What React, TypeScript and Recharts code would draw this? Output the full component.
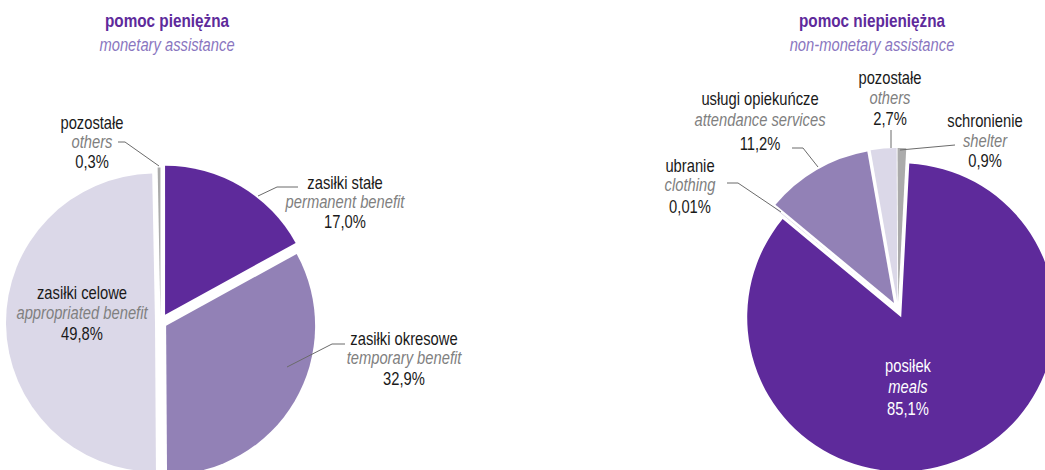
import { PieChart, Pie, Cell } from 'recharts';

// pomoc pieniężna / monetary assistance
const monetaryNames = ['zasiłki stałe', 'zasiłki okresowe', 'zasiłki celowe', 'pozostałe'];
const monetaryNamesEn = ['permanent benefit', 'temporary benefit', 'appropriated benefit', 'others'];
const monetaryValues = [17.0, 32.9, 49.8, 0.3];

// pomoc niepieniężna / non-monetary assistance
const nonMonetaryNames = ['posiłek', 'ubranie', 'usługi opiekuńcze', 'pozostałe', 'schronienie'];
const nonMonetaryNamesEn = ['meals', 'clothing', 'attendance services', 'others', 'shelter'];
const nonMonetaryValues = [85.1, 0.01, 11.2, 2.7, 0.9];

const PURPLE = '#5e2a9b';
const MID = '#9281b6';
const LIGHT = '#dbd8e8';
const GREY = '#ababab';

const monetaryColors = [PURPLE, MID, LIGHT, GREY];
const nonMonetaryColors = [PURPLE, MID, MID, LIGHT, GREY];

// no condensed font installed, so Liberation Sans gets squeezed horizontally
const FONT = "'Liberation Sans', Arial, sans-serif";
const SQUEEZE = 0.82;

// label placement (layout only)
const monetaryLabels = [
  { x: 345, y: [189, 208, 228], line: [[258, 196], [277, 187], [298, 187]] },
  { x: 404, y: [345, 364, 385], line: [[287, 367], [332, 344], [345, 344]] },
  { x: 82, y: [299, 319, 340], line: [] },
  { x: 92, y: [129, 148, 168], line: [[118, 142], [125, 142], [159, 166]] }
];
const nonMonetaryLabels = [
  { x: 908, y: [372, 393, 415], line: [], white: true },
  { x: 690, y: [172, 191, 213], line: [[727, 183], [738, 183], [781, 212]] },
  { x: 760, y: [105, 126, 150], line: [[792, 148], [803, 148], [818, 167]] },
  { x: 890, y: [84, 104, 125], line: [[891, 130], [891, 148]] },
  { x: 985, y: [127, 147, 167], line: [[900, 150], [955, 145]] }
];

const pct = (v: number) => v.toFixed(v < 0.1 ? 2 : 1).replace('.', ',') + '%';

const explodedPies = (
  id: string,
  names: string[],
  values: number[],
  colors: string[],
  cx: number,
  cy: number,
  r: number,
  start: number,
  dists: number[]
) => {
  const rows = names.map((name, i) => ({ name, value: values[i] }));
  const total = values.reduce((a, b) => a + b, 0);
  let acc = 0;
  return values.map((v, i) => {
    const mid = ((start - (360 * (acc + v / 2)) / total) * Math.PI) / 180;
    acc += v;
    const d = dists[i];
    return (
      <Pie
        key={id + i}
        data={rows}
        dataKey='value'
        cx={cx + d * Math.cos(mid)}
        cy={cy - d * Math.sin(mid)}
        outerRadius={r}
        startAngle={start}
        endAngle={start - 360}
        stroke='none'
        isAnimationActive={false}
      >
        {rows.map((_, j) => (
          <Cell key={j} fill={j === i ? colors[j] : 'transparent'} />
        ))}
      </Pie>
    );
  });
};

const T = ({ x, y, children, squeeze = SQUEEZE, ...rest }: any) => (
  <text x={0} y={y} transform={`translate(${x} 0) scale(${squeeze} 1)`} textAnchor='middle' {...rest}>
    {children}
  </text>
);

const Labels = ({ names, namesEn, values, pos }: any) => (
  <g>
    {pos.map((p: any, i: number) => (
      <g key={i}>
        {p.line.length > 0 && (
          <polyline
            points={p.line.map((pt: number[]) => pt.join(',')).join(' ')}
            fill='none'
            stroke='#6b6b6b'
            strokeWidth={1}
          />
        )}
        <T x={p.x} y={p.y[0]} fill={p.white ? '#fff' : '#1a1a1a'}>
          {names[i]}
        </T>
        <T x={p.x} y={p.y[1]} fontStyle='italic' fill={p.white ? '#fff' : '#808080'}>
          {namesEn[i]}
        </T>
        <T x={p.x} y={p.y[2]} fill={p.white ? '#fff' : '#1a1a1a'}>
          {pct(values[i])}
        </T>
      </g>
    ))}
  </g>
);

const App = () => {
  return (
    <div style={{ position: 'absolute', left: 0, top: 0, width: 1045, height: 470, background: '#fff', fontFamily: FONT }}>
      <div style={{ position: 'absolute', left: 0, top: 0 }}>
        <PieChart width={1045} height={470} margin={{ top: 0, right: 0, bottom: 0, left: 0 }}>
          {explodedPies('m', monetaryNames, monetaryValues, monetaryColors, 160.5, 322.5, 149, 90, [9, 6.5, 5.5, 6])}
          {explodedPies('n', nonMonetaryNames, nonMonetaryValues, nonMonetaryColors, 898, 310, 154, 87, [8, 8, 8, 8, 8])}
        </PieChart>
      </div>
      <svg
        width={1045}
        height={470}
        style={{ position: 'absolute', left: 0, top: 0, pointerEvents: 'none' }}
        fontFamily={FONT}
        fontSize={18}
      >
        <T x={167} y={27} squeeze={0.85} fontWeight='bold' fill={PURPLE}>
          pomoc pieniężna
        </T>
        <T x={167} y={51} fontStyle='italic' fill='#8a76c0'>
          monetary assistance
        </T>
        <T x={872} y={27} squeeze={0.85} fontWeight='bold' fill={PURPLE}>
          pomoc niepieniężna
        </T>
        <T x={872} y={51} fontStyle='italic' fill='#8a76c0'>
          non-monetary assistance
        </T>
        <Labels names={monetaryNames} namesEn={monetaryNamesEn} values={monetaryValues} pos={monetaryLabels} />
        <Labels names={nonMonetaryNames} namesEn={nonMonetaryNamesEn} values={nonMonetaryValues} pos={nonMonetaryLabels} />
      </svg>
    </div>
  );
};

export default App;
